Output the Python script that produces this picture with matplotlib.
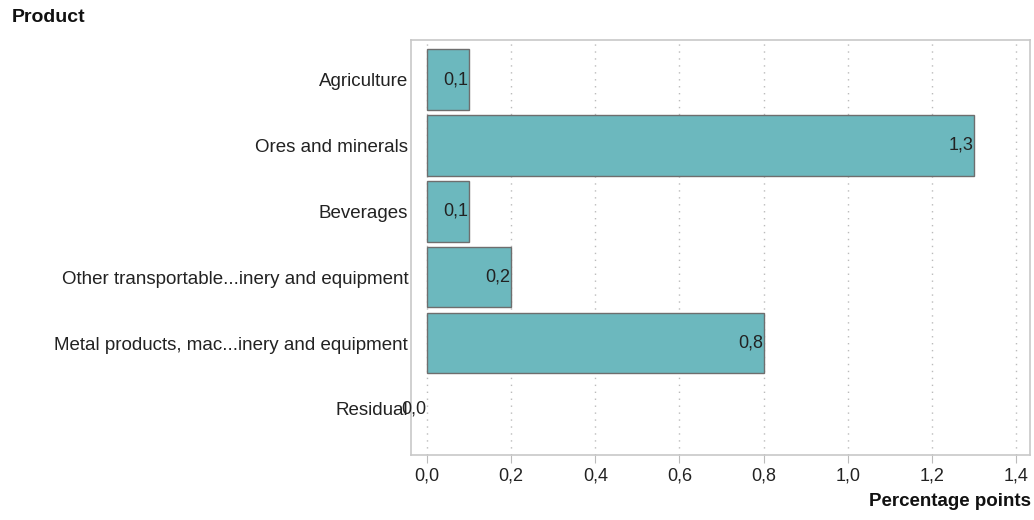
import matplotlib
matplotlib.use("Agg")
import matplotlib.pyplot as plt
import numpy as np

categories = ["Agriculture", "Ores and minerals", "Beverages",
              "Other transportable...inery and equipment",
              "Metal products, mac...inery and equipment", "Residual"]
values = [0.1, 1.3, 0.1, 0.2, 0.8, 0.0]
xticks = [0.0, 0.2, 0.4, 0.6, 0.8, 1.0, 1.2, 1.4]

plt.rcParams['font.family'] = ['Liberation Sans', 'DejaVu Sans']
fs = 13.5

fig = plt.figure(figsize=(10.34, 5.2), dpi=100)
ax = fig.add_axes([411/1034, 1-455/520, (1030-411)/1034, (455-40)/520])

y = np.arange(len(categories))
lws = [1.0 if v != 0 else 0.0 for v in values]
ax.barh(y, values, height=0.92, color='#6cb8be', edgecolor='#6e6e6e', linewidth=lws, zorder=3)
for yi, v in zip(y, values):
    ax.text(v - 0.002, yi, f"{v:.1f}".replace('.', ','), ha='right', va='center',
            fontsize=13, color='#222222', zorder=4)

ax.set_ylim(len(categories) - 1 + 0.7, -0.6)
ax.set_xlim(-0.038, 1.433)
ax.set_yticks(y)
ax.set_yticklabels(categories, fontsize=fs, color='#222222')
ax.tick_params(axis='y', length=0, pad=2)
ax.set_xticks(xticks)
ax.set_xticklabels([f"{t:.1f}".replace('.', ',') for t in xticks], fontsize=13, color='#222222')
ax.tick_params(axis='x', length=6, color='#bbbbbb', pad=3)
ax.grid(axis='x', linestyle=(0, (1, 4)), color='#bbbbbb', linewidth=1, zorder=0)
for s in ax.spines.values():
    s.set_color('#c8c8c8')
    s.set_linewidth(1.2)

fig.text(12/1034, 1-17/520, "Product", fontsize=14, fontweight='bold', va='center', ha='left', color='#111111')
fig.text(1031/1034, 1-502/520, "Percentage points", fontsize=13.5, fontweight='bold', va='center', ha='right', color='#111111')

fig.savefig("out.png", dpi=100)
